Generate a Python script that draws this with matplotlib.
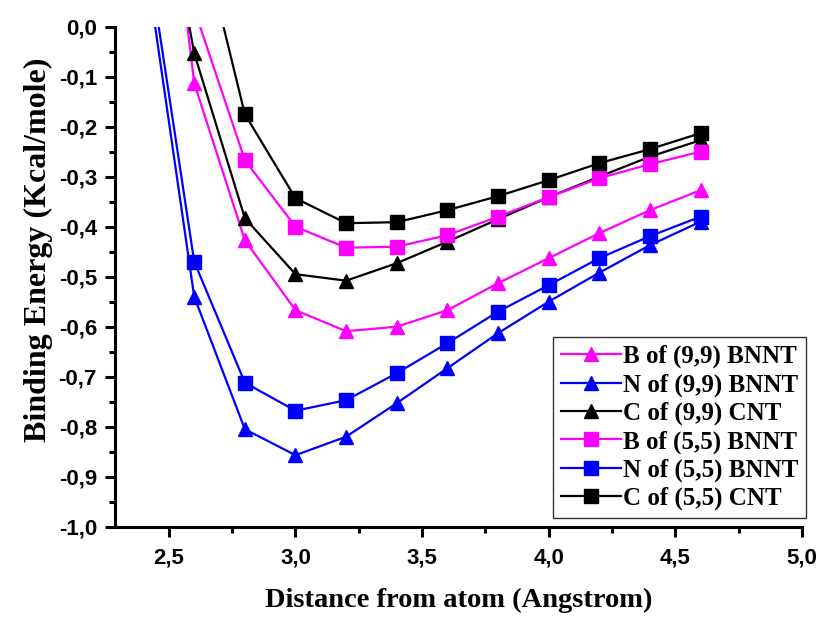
import numpy as np
import matplotlib
matplotlib.use('Agg')
import matplotlib.pyplot as plt
from matplotlib.ticker import FuncFormatter, MultipleLocator

# distance from atom (Angstrom)
distance = [2.4, 2.6, 2.8, 3.0, 3.2, 3.4, 3.6, 3.8, 4.0, 4.2, 4.4, 4.6]

# binding energy (Kcal/mole); first points lie above the plot
b_99 = [0.73, -0.113, -0.427, -0.567, -0.609, -0.600, -0.567, -0.513, -0.463, -0.413, -0.367, -0.327]
n_99 = [0.16, -0.540, -0.805, -0.857, -0.820, -0.753, -0.683, -0.613, -0.550, -0.492, -0.437, -0.390]
c_99 = [0.50, -0.053, -0.383, -0.495, -0.508, -0.473, -0.430, -0.385, -0.341, -0.300, -0.260, -0.227]
b_55 = [0.40, 0.035, -0.267, -0.400, -0.442, -0.440, -0.417, -0.380, -0.341, -0.303, -0.275, -0.250]
n_55 = [0.20, -0.470, -0.712, -0.768, -0.747, -0.693, -0.633, -0.570, -0.517, -0.463, -0.419, -0.380]
c_55 = [0.60, 0.240, -0.175, -0.343, -0.393, -0.391, -0.367, -0.339, -0.307, -0.273, -0.245, -0.213]

labels = ['B of (9,9) BNNT', 'N of (9,9) BNNT', 'C of (9,9) CNT',
          'B of (5,5) BNNT', 'N of (5,5) BNNT', 'C of (5,5) CNT']
series = [b_99, n_99, c_99, b_55, n_55, c_55]
colors = ['#ff00ff', '#0000ff', '#000000', '#ff00ff', '#0000ff', '#000000']
markers = ['^', '^', '^', 's', 's', 's']

fig = plt.figure(figsize=(8.19, 6.19), dpi=100)
ax = fig.add_axes([0.1404, 0.1491, 0.979 - 0.1404, 0.9569 - 0.1491])

for ys, lab, col, mk in zip(series, labels, colors, markers):
    ax.plot(distance, ys, color=col, marker=mk, markersize=10.5 if mk == '^' else 9.5,
            linewidth=1.6, label=lab)

ax.set_xlim(2.287, 5.0)
ax.set_ylim(-1.0, 0.0)

# only left and bottom axes, origin style
ax.spines['top'].set_visible(False)
ax.spines['right'].set_visible(False)
ax.spines['left'].set_linewidth(2.2)
ax.spines['bottom'].set_linewidth(2.2)

ax.xaxis.set_major_locator(MultipleLocator(0.5))
ax.xaxis.set_minor_locator(MultipleLocator(0.25))
ax.yaxis.set_major_locator(MultipleLocator(0.1))
ax.yaxis.set_minor_locator(MultipleLocator(0.05))

comma = FuncFormatter(lambda v, p: ('%.1f' % v).replace('.', ',').replace('-0,0', '0,0'))
ax.xaxis.set_major_formatter(comma)
ax.yaxis.set_major_formatter(comma)

ax.tick_params(which='major', direction='out', length=7, width=2.2)
ax.tick_params(which='minor', direction='out', length=4, width=2.2)
ax.tick_params(axis='x', which='major', pad=8)
ax.tick_params(axis='y', which='major', pad=6)
for t in ax.get_xticklabels() + ax.get_yticklabels():
    t.set_fontfamily('Liberation Sans')
    t.set_fontweight('bold')
    t.set_fontsize(16)

ax.set_xlabel('Distance from atom (Angstrom)', fontfamily='Liberation Serif',
              fontweight='bold', fontsize=20.5, labelpad=14)
ax.set_ylabel('Binding Energy (Kcal/mole)', fontfamily='Liberation Serif',
              fontweight='bold', fontsize=23)
# the y label sits a bit above the middle of the axis in the original
ax.yaxis.set_label_coords(-0.09, 0.553)

leg = ax.legend(loc='lower right', bbox_to_anchor=(806 / 819, 1 - 518 / 619),
                bbox_transform=fig.transFigure, borderaxespad=0,
                prop={'family': 'Liberation Serif', 'weight': 'bold', 'size': 18},
                handlelength=2.4, handletextpad=0.1, labelspacing=0.2,
                borderpad=0.3, fancybox=False, framealpha=1, edgecolor='#333333')
leg.get_frame().set_linewidth(1.0)

fig.savefig('out.png', dpi=100)
